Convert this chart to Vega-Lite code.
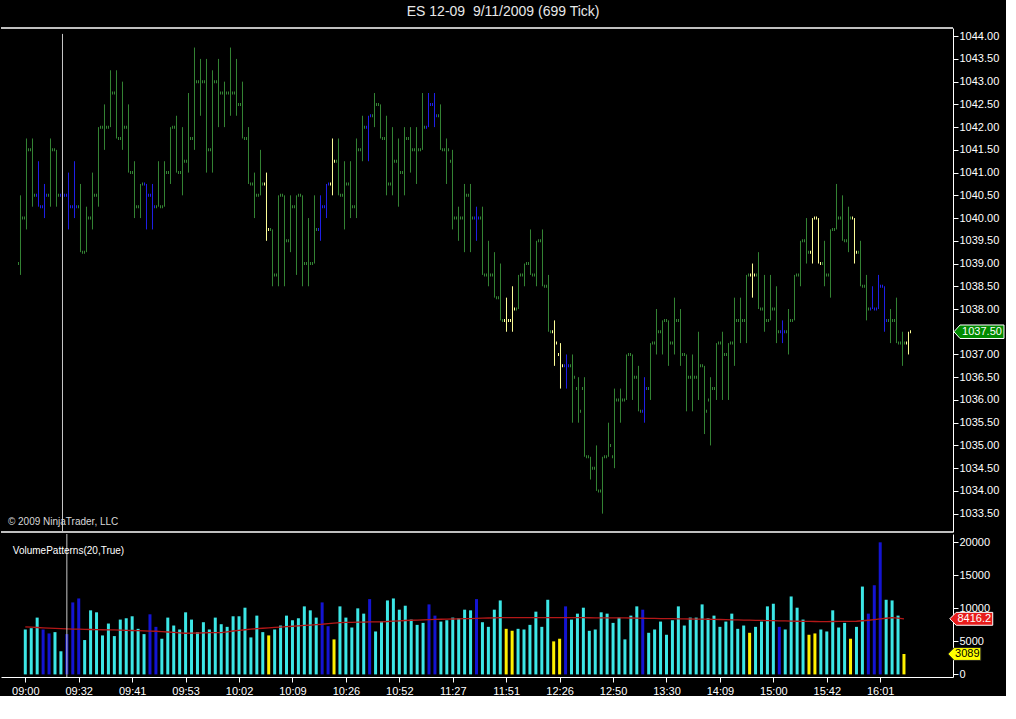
{
  "$schema": "https://vega.github.io/schema/vega-lite/v6.json",
  "background": "#000000",
  "padding": {"top": 5, "left": 0, "right": 0, "bottom": 0},
  "title": {
    "text": "ES 12-09\u00a0 9/11/2009 (699 Tick)",
    "color": "#E8E8E8",
    "font": "Liberation Sans",
    "fontSize": 14,
    "fontWeight": "normal",
    "anchor": "middle",
    "offset": 8
  },
  "data": {
    "values": [
      {"i":0,"o":1039,"h":1040.5,"l":1038.75,"c":1040,"v":6800,"ma":7190,"k":"n"},
      {"i":1,"o":1040,"h":1041.75,"l":1039.75,"c":1041.5,"v":7000,"ma":7150,"k":"n"},
      {"i":2,"o":1041.5,"h":1041.75,"l":1040.25,"c":1040.5,"v":8600,"ma":7100,"k":"n"},
      {"i":3,"o":1040.5,"h":1041.25,"l":1040.25,"c":1040.25,"v":6800,"ma":7050,"k":"b"},
      {"i":4,"o":1040.25,"h":1040.75,"l":1040,"c":1040.5,"v":6200,"ma":7000,"k":"b"},
      {"i":5,"o":1040.5,"h":1041.75,"l":1040.25,"c":1041.5,"v":6400,"ma":6960,"k":"n"},
      {"i":6,"o":1041.5,"h":1041.5,"l":1040.25,"c":1040.5,"v":3500,"ma":6920,"k":"n"},
      {"i":7,"o":1040.5,"h":1040.75,"l":1040.25,"c":1040.5,"v":6100,"ma":6890,"k":"b"},
      {"i":8,"o":1040.5,"h":1041,"l":1039.75,"c":1040.25,"v":10900,"ma":6860,"k":"b"},
      {"i":9,"o":1040.25,"h":1041.25,"l":1040,"c":1040.25,"v":11500,"ma":6840,"k":"b"},
      {"i":10,"o":1040.25,"h":1040.75,"l":1039.25,"c":1039.25,"v":5200,"ma":6820,"k":"n"},
      {"i":11,"o":1039.25,"h":1040.25,"l":1039.25,"c":1040,"v":9700,"ma":6800,"k":"n"},
      {"i":12,"o":1040,"h":1041,"l":1039.75,"c":1040.5,"v":9400,"ma":6780,"k":"n"},
      {"i":13,"o":1040.5,"h":1042,"l":1040.25,"c":1042,"v":5900,"ma":6760,"k":"n"},
      {"i":14,"o":1042,"h":1042.5,"l":1041.5,"c":1042,"v":7700,"ma":6740,"k":"n"},
      {"i":15,"o":1042,"h":1043.25,"l":1042,"c":1042.75,"v":5800,"ma":6730,"k":"n"},
      {"i":16,"o":1042.75,"h":1043.25,"l":1041.75,"c":1041.75,"v":8300,"ma":6700,"k":"n"},
      {"i":17,"o":1041.75,"h":1043,"l":1041.5,"c":1042,"v":8500,"ma":6680,"k":"n"},
      {"i":18,"o":1042,"h":1042.5,"l":1041,"c":1041,"v":8800,"ma":6650,"k":"n"},
      {"i":19,"o":1041,"h":1041.25,"l":1040,"c":1040.25,"v":6900,"ma":6620,"k":"n"},
      {"i":20,"o":1040.25,"h":1040.75,"l":1040,"c":1040.75,"v":6100,"ma":6590,"k":"n"},
      {"i":21,"o":1040.75,"h":1040.75,"l":1039.75,"c":1040.5,"v":9100,"ma":6560,"k":"b"},
      {"i":22,"o":1040.5,"h":1040.75,"l":1039.75,"c":1040.25,"v":7200,"ma":6530,"k":"b"},
      {"i":23,"o":1040.25,"h":1041.25,"l":1040.25,"c":1040.25,"v":5400,"ma":6480,"k":"n"},
      {"i":24,"o":1040.25,"h":1041.25,"l":1040.25,"c":1041,"v":8600,"ma":6420,"k":"n"},
      {"i":25,"o":1041,"h":1042,"l":1040.75,"c":1042,"v":7400,"ma":6360,"k":"n"},
      {"i":26,"o":1042,"h":1042.25,"l":1041,"c":1041,"v":6800,"ma":6290,"k":"n"},
      {"i":27,"o":1041,"h":1042,"l":1040.5,"c":1041.25,"v":9400,"ma":6230,"k":"n"},
      {"i":28,"o":1041.25,"h":1042.75,"l":1041,"c":1041.75,"v":8300,"ma":6250,"k":"n"},
      {"i":29,"o":1041.75,"h":1043.75,"l":1041.5,"c":1043,"v":6400,"ma":6270,"k":"n"},
      {"i":30,"o":1043,"h":1043.5,"l":1042.25,"c":1043,"v":7900,"ma":6290,"k":"n"},
      {"i":31,"o":1043,"h":1043.5,"l":1041,"c":1041.5,"v":6800,"ma":6310,"k":"n"},
      {"i":32,"o":1041.5,"h":1043.25,"l":1041,"c":1043,"v":8600,"ma":6320,"k":"n"},
      {"i":33,"o":1043,"h":1043.5,"l":1042,"c":1042.75,"v":7600,"ma":6330,"k":"n"},
      {"i":34,"o":1042.75,"h":1043,"l":1042,"c":1042.75,"v":7200,"ma":6450,"k":"n"},
      {"i":35,"o":1042.75,"h":1043.75,"l":1042.25,"c":1042.75,"v":8800,"ma":6570,"k":"n"},
      {"i":36,"o":1042.75,"h":1043.5,"l":1042.25,"c":1042.5,"v":8800,"ma":6680,"k":"n"},
      {"i":37,"o":1042.5,"h":1043,"l":1041.75,"c":1041.75,"v":10100,"ma":6760,"k":"n"},
      {"i":38,"o":1041.75,"h":1042,"l":1040.75,"c":1040.75,"v":5600,"ma":6840,"k":"n"},
      {"i":39,"o":1040.75,"h":1041,"l":1040,"c":1040.5,"v":8900,"ma":6920,"k":"n"},
      {"i":40,"o":1040.5,"h":1041.5,"l":1040.5,"c":1040.75,"v":6400,"ma":6990,"k":"n"},
      {"i":41,"o":1040.75,"h":1041,"l":1039.5,"c":1039.75,"v":5900,"ma":7050,"k":"y"},
      {"i":42,"o":1039.75,"h":1039.75,"l":1038.5,"c":1038.75,"v":6800,"ma":7110,"k":"n"},
      {"i":43,"o":1038.75,"h":1040.5,"l":1038.5,"c":1040.5,"v":7400,"ma":7170,"k":"n"},
      {"i":44,"o":1040.5,"h":1040.5,"l":1038.5,"c":1039.5,"v":8900,"ma":7230,"k":"n"},
      {"i":45,"o":1039.5,"h":1040.5,"l":1039.25,"c":1040.25,"v":8200,"ma":7290,"k":"n"},
      {"i":46,"o":1040.25,"h":1040.5,"l":1038.75,"c":1040.5,"v":8500,"ma":7350,"k":"n"},
      {"i":47,"o":1040.5,"h":1040.5,"l":1038.5,"c":1039,"v":10300,"ma":7410,"k":"n"},
      {"i":48,"o":1039,"h":1040,"l":1038.5,"c":1039,"v":9700,"ma":7470,"k":"n"},
      {"i":49,"o":1039,"h":1040.5,"l":1039,"c":1039.75,"v":8600,"ma":7530,"k":"n"},
      {"i":50,"o":1039.75,"h":1040.5,"l":1039.5,"c":1040.25,"v":10900,"ma":7590,"k":"b"},
      {"i":51,"o":1040.25,"h":1040.75,"l":1040,"c":1040.75,"v":7300,"ma":7680,"k":"b"},
      {"i":52,"o":1040.75,"h":1041.75,"l":1040.5,"c":1041.25,"v":5300,"ma":7770,"k":"y"},
      {"i":53,"o":1041.25,"h":1041.75,"l":1040.5,"c":1040.5,"v":10300,"ma":7850,"k":"n"},
      {"i":54,"o":1040.5,"h":1041.25,"l":1039.75,"c":1040.75,"v":8600,"ma":7870,"k":"n"},
      {"i":55,"o":1040.75,"h":1041.25,"l":1040,"c":1040.25,"v":7100,"ma":7890,"k":"n"},
      {"i":56,"o":1040.25,"h":1041.75,"l":1040,"c":1041.5,"v":10000,"ma":7910,"k":"n"},
      {"i":57,"o":1041.5,"h":1042.25,"l":1041.25,"c":1042,"v":9200,"ma":7930,"k":"n"},
      {"i":58,"o":1042,"h":1042.25,"l":1041.25,"c":1042.25,"v":11400,"ma":7950,"k":"b"},
      {"i":59,"o":1042.25,"h":1042.75,"l":1042,"c":1042.5,"v":6500,"ma":7950,"k":"n"},
      {"i":60,"o":1042.5,"h":1042.5,"l":1041.75,"c":1041.75,"v":8000,"ma":7960,"k":"n"},
      {"i":61,"o":1041.75,"h":1042.25,"l":1040.5,"c":1040.75,"v":11200,"ma":8010,"k":"n"},
      {"i":62,"o":1040.75,"h":1042,"l":1040.5,"c":1041.25,"v":11500,"ma":8060,"k":"n"},
      {"i":63,"o":1041.25,"h":1041.75,"l":1040.25,"c":1041,"v":9800,"ma":8110,"k":"n"},
      {"i":64,"o":1041,"h":1042,"l":1040.5,"c":1041.75,"v":10400,"ma":8160,"k":"n"},
      {"i":65,"o":1041.75,"h":1042,"l":1041,"c":1041.5,"v":8300,"ma":8200,"k":"n"},
      {"i":66,"o":1041.5,"h":1042,"l":1040.75,"c":1041.5,"v":7500,"ma":8230,"k":"n"},
      {"i":67,"o":1041.5,"h":1042.75,"l":1041.5,"c":1042,"v":7800,"ma":8260,"k":"n"},
      {"i":68,"o":1042,"h":1042.75,"l":1042,"c":1042.5,"v":10600,"ma":8290,"k":"b"},
      {"i":69,"o":1042.5,"h":1042.75,"l":1042,"c":1042.25,"v":8900,"ma":8320,"k":"b"},
      {"i":70,"o":1042.25,"h":1042.5,"l":1041.5,"c":1041.5,"v":8000,"ma":8350,"k":"n"},
      {"i":71,"o":1041.5,"h":1041.75,"l":1040.75,"c":1041.5,"v":8200,"ma":8370,"k":"n"},
      {"i":72,"o":1041.25,"h":1041.5,"l":1039.75,"c":1040,"v":8600,"ma":8390,"k":"n"},
      {"i":73,"o":1040,"h":1040.25,"l":1039.5,"c":1040,"v":8500,"ma":8410,"k":"n"},
      {"i":74,"o":1040,"h":1040.75,"l":1039.25,"c":1040.5,"v":9800,"ma":8430,"k":"n"},
      {"i":75,"o":1040.5,"h":1040.75,"l":1039.25,"c":1040,"v":9700,"ma":8450,"k":"n"},
      {"i":76,"o":1040,"h":1040.25,"l":1039.5,"c":1040,"v":11400,"ma":8480,"k":"b"},
      {"i":77,"o":1040,"h":1040.25,"l":1038.75,"c":1038.75,"v":7900,"ma":8510,"k":"n"},
      {"i":78,"o":1038.75,"h":1039.5,"l":1038.5,"c":1038.75,"v":7200,"ma":8540,"k":"n"},
      {"i":79,"o":1038.75,"h":1039.25,"l":1038.25,"c":1038.25,"v":9800,"ma":8570,"k":"n"},
      {"i":80,"o":1038.25,"h":1039,"l":1037.75,"c":1037.75,"v":11200,"ma":8600,"k":"n"},
      {"i":81,"o":1037.75,"h":1038.25,"l":1037.5,"c":1037.75,"v":6900,"ma":8600,"k":"y"},
      {"i":82,"o":1037.75,"h":1038.5,"l":1037.5,"c":1038,"v":6600,"ma":8610,"k":"y"},
      {"i":83,"o":1038,"h":1038.75,"l":1038,"c":1038.75,"v":6900,"ma":8600,"k":"n"},
      {"i":84,"o":1038.75,"h":1039,"l":1038.5,"c":1039,"v":6800,"ma":8590,"k":"n"},
      {"i":85,"o":1039,"h":1039.75,"l":1038.75,"c":1038.75,"v":7500,"ma":8600,"k":"n"},
      {"i":86,"o":1038.75,"h":1039.5,"l":1038.5,"c":1039.5,"v":9500,"ma":8610,"k":"n"},
      {"i":87,"o":1039.5,"h":1039.75,"l":1038.5,"c":1038.5,"v":7200,"ma":8600,"k":"n"},
      {"i":88,"o":1038.5,"h":1038.75,"l":1037.5,"c":1037.5,"v":11300,"ma":8610,"k":"n"},
      {"i":89,"o":1037.5,"h":1037.75,"l":1036.75,"c":1037.25,"v":5000,"ma":8600,"k":"y"},
      {"i":90,"o":1037,"h":1037.25,"l":1036.25,"c":1036.75,"v":5400,"ma":8590,"k":"y"},
      {"i":91,"o":1036.75,"h":1037,"l":1036.25,"c":1036.75,"v":10300,"ma":8600,"k":"b"},
      {"i":92,"o":1036.75,"h":1037,"l":1035.5,"c":1036.5,"v":8300,"ma":8610,"k":"n"},
      {"i":93,"o":1036.25,"h":1036.5,"l":1035.5,"c":1035.75,"v":9200,"ma":8600,"k":"n"},
      {"i":94,"o":1036.25,"h":1036.5,"l":1034.75,"c":1034.75,"v":10100,"ma":8590,"k":"n"},
      {"i":95,"o":1034.75,"h":1034.75,"l":1034.25,"c":1034.5,"v":6600,"ma":8580,"k":"n"},
      {"i":96,"o":1034.5,"h":1035,"l":1034,"c":1034,"v":6800,"ma":8570,"k":"n"},
      {"i":97,"o":1034,"h":1034.75,"l":1033.5,"c":1034.75,"v":9400,"ma":8570,"k":"n"},
      {"i":98,"o":1034.75,"h":1035.5,"l":1034.75,"c":1035,"v":9200,"ma":8560,"k":"n"},
      {"i":99,"o":1034.75,"h":1036.25,"l":1034.5,"c":1036,"v":7800,"ma":8560,"k":"n"},
      {"i":100,"o":1036,"h":1036.25,"l":1035.5,"c":1036,"v":8600,"ma":8560,"k":"n"},
      {"i":101,"o":1036,"h":1037,"l":1036,"c":1037,"v":5300,"ma":8550,"k":"n"},
      {"i":102,"o":1037,"h":1037,"l":1036,"c":1036.5,"v":8900,"ma":8540,"k":"n"},
      {"i":103,"o":1036.5,"h":1036.75,"l":1035.75,"c":1035.75,"v":10300,"ma":8520,"k":"n"},
      {"i":104,"o":1035.75,"h":1036.5,"l":1035.5,"c":1036.25,"v":9800,"ma":8500,"k":"b"},
      {"i":105,"o":1036.25,"h":1037.25,"l":1036,"c":1037.25,"v":6300,"ma":8480,"k":"n"},
      {"i":106,"o":1037.25,"h":1038,"l":1037,"c":1037.5,"v":6800,"ma":8470,"k":"n"},
      {"i":107,"o":1037.5,"h":1037.75,"l":1037,"c":1037.75,"v":8000,"ma":8460,"k":"n"},
      {"i":108,"o":1037.75,"h":1037.75,"l":1036.75,"c":1037.25,"v":6000,"ma":8450,"k":"n"},
      {"i":109,"o":1037.25,"h":1038.25,"l":1037,"c":1037.75,"v":8200,"ma":8440,"k":"n"},
      {"i":110,"o":1037.75,"h":1038,"l":1036.75,"c":1037,"v":10300,"ma":8420,"k":"n"},
      {"i":111,"o":1037,"h":1037,"l":1035.75,"c":1036.5,"v":7400,"ma":8400,"k":"n"},
      {"i":112,"o":1036.5,"h":1037,"l":1035.75,"c":1036.5,"v":8600,"ma":8390,"k":"n"},
      {"i":113,"o":1036.5,"h":1037.5,"l":1036,"c":1036.75,"v":8600,"ma":8370,"k":"n"},
      {"i":114,"o":1036.75,"h":1036.75,"l":1035.25,"c":1035.75,"v":10600,"ma":8360,"k":"n"},
      {"i":115,"o":1036,"h":1036.5,"l":1035,"c":1036.25,"v":8500,"ma":8350,"k":"n"},
      {"i":116,"o":1036.25,"h":1037.25,"l":1036,"c":1037.25,"v":8900,"ma":8330,"k":"n"},
      {"i":117,"o":1037.25,"h":1037.5,"l":1036,"c":1037,"v":7200,"ma":8310,"k":"n"},
      {"i":118,"o":1037,"h":1037.25,"l":1036,"c":1037.25,"v":8000,"ma":8290,"k":"n"},
      {"i":119,"o":1037.25,"h":1038.25,"l":1036.75,"c":1037.75,"v":9200,"ma":8270,"k":"n"},
      {"i":120,"o":1037.75,"h":1038.25,"l":1037.25,"c":1037.75,"v":6900,"ma":8250,"k":"n"},
      {"i":121,"o":1037.75,"h":1038.75,"l":1037.25,"c":1038.75,"v":7400,"ma":8230,"k":"n"},
      {"i":122,"o":1038.75,"h":1039,"l":1038.25,"c":1038.75,"v":6300,"ma":8210,"k":"y"},
      {"i":123,"o":1038.75,"h":1039.25,"l":1038,"c":1038,"v":7200,"ma":8190,"k":"n"},
      {"i":124,"o":1038,"h":1038.75,"l":1037.5,"c":1037.75,"v":8000,"ma":8170,"k":"n"},
      {"i":125,"o":1037.75,"h":1038.75,"l":1037.75,"c":1038,"v":10300,"ma":8150,"k":"n"},
      {"i":126,"o":1038,"h":1038.5,"l":1037.25,"c":1037.5,"v":10700,"ma":8130,"k":"n"},
      {"i":127,"o":1037.5,"h":1037.75,"l":1037.25,"c":1037.5,"v":7200,"ma":8110,"k":"b"},
      {"i":128,"o":1037.5,"h":1038,"l":1037,"c":1037.75,"v":6800,"ma":8090,"k":"n"},
      {"i":129,"o":1037.75,"h":1038.75,"l":1037.75,"c":1038.75,"v":11800,"ma":8070,"k":"n"},
      {"i":130,"o":1038.75,"h":1039.5,"l":1038.5,"c":1039.5,"v":10100,"ma":8050,"k":"n"},
      {"i":131,"o":1039.5,"h":1040,"l":1039,"c":1039.25,"v":8300,"ma":8040,"k":"n"},
      {"i":132,"o":1039.25,"h":1040,"l":1039,"c":1040,"v":6000,"ma":8030,"k":"y"},
      {"i":133,"o":1040,"h":1040,"l":1039,"c":1039,"v":6200,"ma":8010,"k":"y"},
      {"i":134,"o":1039,"h":1039.5,"l":1038.5,"c":1038.75,"v":6800,"ma":8000,"k":"n"},
      {"i":135,"o":1038.75,"h":1039.75,"l":1038.25,"c":1039.75,"v":6500,"ma":8000,"k":"n"},
      {"i":136,"o":1039.75,"h":1040.75,"l":1039.75,"c":1040,"v":9700,"ma":8010,"k":"n"},
      {"i":137,"o":1040,"h":1040.5,"l":1039.5,"c":1039.5,"v":7100,"ma":8020,"k":"n"},
      {"i":138,"o":1039.5,"h":1040.25,"l":1039.25,"c":1040,"v":7800,"ma":8030,"k":"n"},
      {"i":139,"o":1040,"h":1040,"l":1039,"c":1039.25,"v":5400,"ma":8040,"k":"y"},
      {"i":140,"o":1039.25,"h":1039.5,"l":1038.5,"c":1038.5,"v":7200,"ma":8050,"k":"n"},
      {"i":141,"o":1038.5,"h":1038.75,"l":1037.75,"c":1038,"v":13300,"ma":8120,"k":"n"},
      {"i":142,"o":1038,"h":1038.5,"l":1038,"c":1038,"v":9200,"ma":8200,"k":"b"},
      {"i":143,"o":1038,"h":1038.75,"l":1038,"c":1038.5,"v":13500,"ma":8300,"k":"b"},
      {"i":144,"o":1038.5,"h":1038.5,"l":1037.5,"c":1037.75,"v":20000,"ma":8400,"k":"b"},
      {"i":145,"o":1037.75,"h":1038,"l":1037.25,"c":1037.75,"v":11300,"ma":8500,"k":"n"},
      {"i":146,"o":1037.75,"h":1038.25,"l":1037.25,"c":1037.25,"v":11200,"ma":8600,"k":"n"},
      {"i":147,"o":1037.25,"h":1037.5,"l":1036.75,"c":1037.25,"v":8900,"ma":8520,"k":"n"},
      {"i":148,"o":1037.25,"h":1037.5,"l":1037,"c":1037.5,"v":3089,"ma":8416.2,"k":"y"}
    ]
  },
  "spacing": 0,
  "vconcat": [
    {
      "width": 952,
      "height": 504,
      "layer": [
        {
          "mark": {"type": "rule", "strokeWidth": 1},
          "encoding": {
            "x": {
              "field": "i",
              "type": "quantitative",
              "scale": {"domain": [-3.25, 155.4167], "nice": false, "zero": false},
              "axis": null
            },
            "y": {
              "field": "l",
              "type": "quantitative",
              "scale": {"domain": [1033.096, 1044.18], "nice": false, "zero": false},
              "axis": {
                "orient": "right",
                "title": null,
                "values": [1033.5, 1034, 1034.5, 1035, 1035.5, 1036, 1036.5, 1037, 1037.5, 1038, 1038.5, 1039, 1039.5, 1040, 1040.5, 1041, 1041.5, 1042, 1042.5, 1043, 1043.5, 1044],
                "tickCount": 100,
                "format": ".2f",
                "labelOverlap": false,
                "labelFlush": false
              }
            },
            "y2": {"field": "h"},
            "color": {
              "field": "k",
              "type": "nominal",
              "scale": {"domain": ["n", "b", "y"], "range": ["#348434", "#2020E8", "#FFFF99"]},
              "legend": null
            }
          }
        },
        {
          "mark": {"type": "tick", "orient": "vertical", "size": 3, "thickness": 1, "xOffset": -2, "opacity": 1},
          "encoding": {
            "x": {"field": "i", "type": "quantitative"},
            "y": {"field": "o", "type": "quantitative"},
            "color": {"field": "k", "type": "nominal"}
          }
        },
        {
          "mark": {"type": "tick", "orient": "vertical", "size": 3, "thickness": 1, "xOffset": 2, "opacity": 1},
          "encoding": {
            "x": {"field": "i", "type": "quantitative"},
            "y": {"field": "c", "type": "quantitative"},
            "color": {"field": "k", "type": "nominal"}
          }
        },
        {
          "data": {"values": [{}]},
          "mark": {"type": "rule", "color": "#FFFFFF", "strokeWidth": 1.5},
          "encoding": {"y": {"datum": 1044.18, "type": "quantitative"}}
        },
        {
          "data": {"values": [{}]},
          "mark": {"type": "rule", "color": "#FFFFFF", "strokeWidth": 1.5},
          "encoding": {"y": {"datum": 1033.096, "type": "quantitative"}}
        },
        {
          "data": {"values": [{}]},
          "mark": {"type": "rule", "color": "#C8C8C8"},
          "encoding": {
            "x": {"datum": 7, "type": "quantitative"},
            "y": {"datum": 1044.05, "type": "quantitative"},
            "y2": {"datum": 1033.096}
          }
        },
        {
          "transform": [{"filter": "datum.i == 148"}],
          "mark": {"type": "point", "shape": "M-1,0L-0.76,-0.27L1,-0.27L1,0.27L-0.76,0.27Z", "size": 2500, "filled": true, "fill": "#008A00", "stroke": "#FFFFFF", "strokeWidth": 1, "opacity": 1},
          "encoding": {
            "x": {"datum": 159.75, "type": "quantitative"},
            "y": {"field": "c", "type": "quantitative"}
          }
        },
        {
          "transform": [{"filter": "datum.i == 148"}],
          "mark": {"type": "text", "color": "#FFFFFF", "font": "Liberation Sans", "fontSize": 11, "dx": 3, "baseline": "middle"},
          "encoding": {
            "x": {"datum": 159.75, "type": "quantitative"},
            "y": {"field": "c", "type": "quantitative"},
            "text": {"field": "c", "type": "quantitative", "format": ".2f"}
          }
        },
        {
          "data": {"values": [{"t": "© 2009 NinjaTrader, LLC"}]},
          "mark": {"type": "text", "align": "left", "baseline": "middle", "color": "#D8D8D8", "font": "Liberation Sans", "fontSize": 10},
          "encoding": {
            "x": {"datum": -2.1, "type": "quantitative"},
            "y": {"datum": 1033.31, "type": "quantitative"},
            "text": {"field": "t"}
          }
        }
      ]
    },
    {
      "width": 952,
      "height": 143,
      "layer": [
        {
          "mark": {"type": "bar", "width": 3},
          "encoding": {
            "x": {
              "field": "i",
              "type": "quantitative",
              "scale": {"domain": [-3.25, 155.4167], "nice": false, "zero": false},
              "axis": {
                "orient": "bottom",
                "title": null,
                "values": [0, 9, 18, 27, 36, 45, 54, 63, 72, 81, 90, 99, 108, 117, 126, 135, 144],
                "tickCount": 100,
                "labelExpr": "['09:00','09:32','09:41','09:53','10:02','10:09','10:26','10:52','11:27','11:51','12:26','12:50','13:30','14:09','15:00','15:42','16:01'][round(datum.value / 9)]",
                "labelPadding": 3,
                "labelOverlap": false,
                "labelFlush": false
              }
            },
            "y": {
              "field": "v",
              "type": "quantitative",
              "scale": {"domain": [-395, 21260], "nice": false, "zero": false},
              "axis": {
                "orient": "right",
                "title": null,
                "values": [0, 5000, 10000, 15000, 20000],
                "tickCount": 100,
                "format": "d",
                "labelOverlap": false,
                "labelFlush": false
              }
            },
            "y2": {"datum": 0},
            "color": {
              "field": "k",
              "type": "nominal",
              "scale": {"domain": ["n", "b", "y"], "range": ["#3CE6E6", "#1414D2", "#FFF000"]},
              "legend": null
            }
          }
        },
        {
          "mark": {"type": "line", "color": "#B41818", "strokeWidth": 1.3},
          "encoding": {
            "x": {"field": "i", "type": "quantitative"},
            "y": {"field": "ma", "type": "quantitative"}
          }
        },
        {
          "data": {"values": [{}]},
          "mark": {"type": "rule", "color": "#C8C8C8"},
          "encoding": {
            "x": {"datum": 7, "type": "quantitative"},
            "y": {"datum": 21260, "type": "quantitative"},
            "y2": {"datum": -395}
          }
        },
        {
          "transform": [{"filter": "datum.i == 148"}],
          "mark": {"type": "point", "shape": "M-1,0L-0.7,-0.3L1,-0.3L1,0.3L-0.7,0.3Z", "size": 1849, "filled": true, "fill": "#E81C1C", "stroke": "#FFFFFF", "strokeWidth": 1, "opacity": 1},
          "encoding": {
            "x": {"datum": 159.33, "type": "quantitative"},
            "y": {"field": "ma", "type": "quantitative"}
          }
        },
        {
          "transform": [{"filter": "datum.i == 148"}],
          "mark": {"type": "text", "color": "#FFFFFF", "font": "Liberation Sans", "fontSize": 11, "dx": 3, "baseline": "middle"},
          "encoding": {
            "x": {"datum": 159.33, "type": "quantitative"},
            "y": {"field": "ma", "type": "quantitative"},
            "text": {"field": "ma", "type": "quantitative", "format": ".1f"}
          }
        },
        {
          "transform": [{"filter": "datum.i == 148"}],
          "mark": {"type": "point", "shape": "M-1,0L-0.62,-0.39L1,-0.39L1,0.39L-0.62,0.39Z", "size": 1089, "filled": true, "fill": "#FFFF00", "stroke": "#202020", "strokeWidth": 1, "opacity": 1},
          "encoding": {
            "x": {"datum": 158.17, "type": "quantitative"},
            "y": {"field": "v", "type": "quantitative"}
          }
        },
        {
          "transform": [{"filter": "datum.i == 148"}],
          "mark": {"type": "text", "color": "#000000", "font": "Liberation Sans", "fontSize": 11, "dx": 3, "baseline": "middle"},
          "encoding": {
            "x": {"datum": 158.17, "type": "quantitative"},
            "y": {"field": "v", "type": "quantitative"},
            "text": {"field": "v", "type": "quantitative", "format": "d"}
          }
        },
        {
          "data": {"values": [{"t": "VolumePatterns(20,True)"}]},
          "mark": {"type": "text", "align": "left", "baseline": "middle", "color": "#FFFFFF", "font": "Liberation Sans", "fontSize": 10},
          "encoding": {
            "x": {"datum": -2.1, "type": "quantitative"},
            "y": {"datum": 18630, "type": "quantitative"},
            "text": {"field": "t"}
          }
        }
      ]
    }
  ],
  "resolve": {"scale": {"x": "independent", "y": "independent", "color": "independent"}},
  "config": {
    "font": "Liberation Sans",
    "view": {"stroke": null},
    "axis": {
      "grid": false,
      "labelColor": "#FFFFFF",
      "labelFont": "Liberation Sans",
      "labelFontSize": 11,
      "labelPadding": 1,
      "labelFlush": false,
      "labelOverlap": false,
      "tickColor": "#FFFFFF",
      "tickSize": 5,
      "domainColor": "#FFFFFF"
    }
  }
}
